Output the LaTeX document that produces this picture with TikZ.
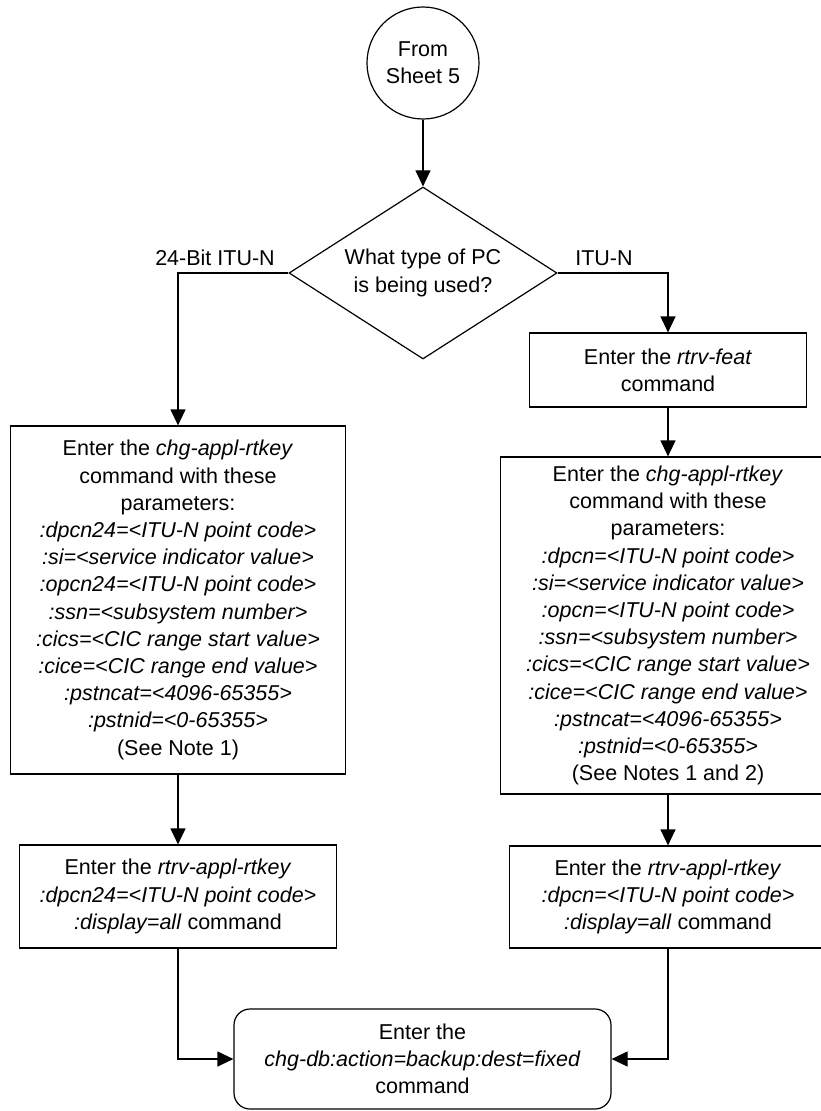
\documentclass[tikz,border=0pt]{standalone}
\usepackage{fontspec}
\setmainfont{Liberation Sans}
\usetikzlibrary{shapes.geometric,arrows.meta}
\tikzset{
    every node/.style={font=\fontsize{21.5}{27.2}\selectfont},
    box/.style={draw,line width=1.2pt,align=center,inner sep=0pt},
    decision/.style={draw,diamond,line width=1.2pt,align=center,inner sep=0pt,
        aspect=1.56,minimum width=268pt,minimum height=172pt},
    arr/.style={line width=1.2pt,-{Triangle[length=16pt,width=15pt]}}
}
\begin{document}
\begin{tikzpicture}[x=1pt,y=-1pt]
            \useasboundingbox (0,0) rectangle (820,1111);
            \node[draw,circle,line width=1.2pt,minimum size=112pt,inner sep=0pt,align=center] (start) at (423,63) {From\\Sheet 5};
            \node[decision] (pctype) at (423,273) {What type of PC\\is being used?};
            \node[inner sep=0pt] (lbit) at (215,258) {24-Bit ITU-N};
            \node[inner sep=0pt] (litu) at (604,258) {ITU-N};
            \node[box,minimum width=277pt,minimum height=74pt] (feat) at (668,370) {Enter the \textit{rtrv-feat}\\command};
            \node[box,minimum width=335pt,minimum height=348pt] (chgl) at (178,600) {Enter the \textit{chg-appl-rtkey}\\command with these\\parameters:\\
                \textit{:dpcn24=<ITU-N point code>}\\\textit{:si=<service indicator value>}\\\textit{:opcn24=<ITU-N point code>}\\
                \textit{:ssn=<subsystem number>}\\\textit{:cics=<CIC range start value>}\\\textit{:cice=<CIC range end value>}\\
                \textit{:pstncat=<4096-65355>}\\\textit{:pstnid=<0-65355>}\\(See Note 1)};
            \node[box,minimum width=335pt,minimum height=337pt] (chgr) at (668,625.5) {Enter the \textit{chg-appl-rtkey}\\command with these\\parameters:\\
                \textit{:dpcn=<ITU-N point code>}\\\textit{:si=<service indicator value>}\\\textit{:opcn=<ITU-N point code>}\\
                \textit{:ssn=<subsystem number>}\\\textit{:cics=<CIC range start value>}\\\textit{:cice=<CIC range end value>}\\
                \textit{:pstncat=<4096-65355>}\\\textit{:pstnid=<0-65355>}\\(See Notes 1 and 2)};
            \node[box,minimum width=317pt,minimum height=103pt] (rtrvl) at (178,896.5) {Enter the \textit{rtrv-appl-rtkey}\\\textit{:dpcn24=<ITU-N point code>}\\\textit{:display=all} command};
            \node[box,minimum width=317pt,minimum height=102pt] (rtrvr) at (668,897) {Enter the \textit{rtrv-appl-rtkey}\\\textit{:dpcn=<ITU-N point code>}\\\textit{:display=all} command};
            \node[box,rounded corners=16pt,minimum width=377pt,minimum height=100pt] (backup) at (422.5,1059) {Enter the\\\textit{chg-db:action=backup:dest=fixed}\\command};
            \draw[arr] (start) -- (pctype);
            \draw[arr] (pctype.west) -| (chgl.north);
            \draw[arr] (pctype.east) -| (feat.north);
            \draw[arr] (feat) -- (chgr);
            \draw[arr] (chgl) -- (rtrvl);
            \draw[arr] (chgr) -- (rtrvr);
            \draw[arr] (rtrvl.south) |- (backup.west);
            \draw[arr] (rtrvr.south) |- (backup.east);
        \end{tikzpicture}
\end{document}
